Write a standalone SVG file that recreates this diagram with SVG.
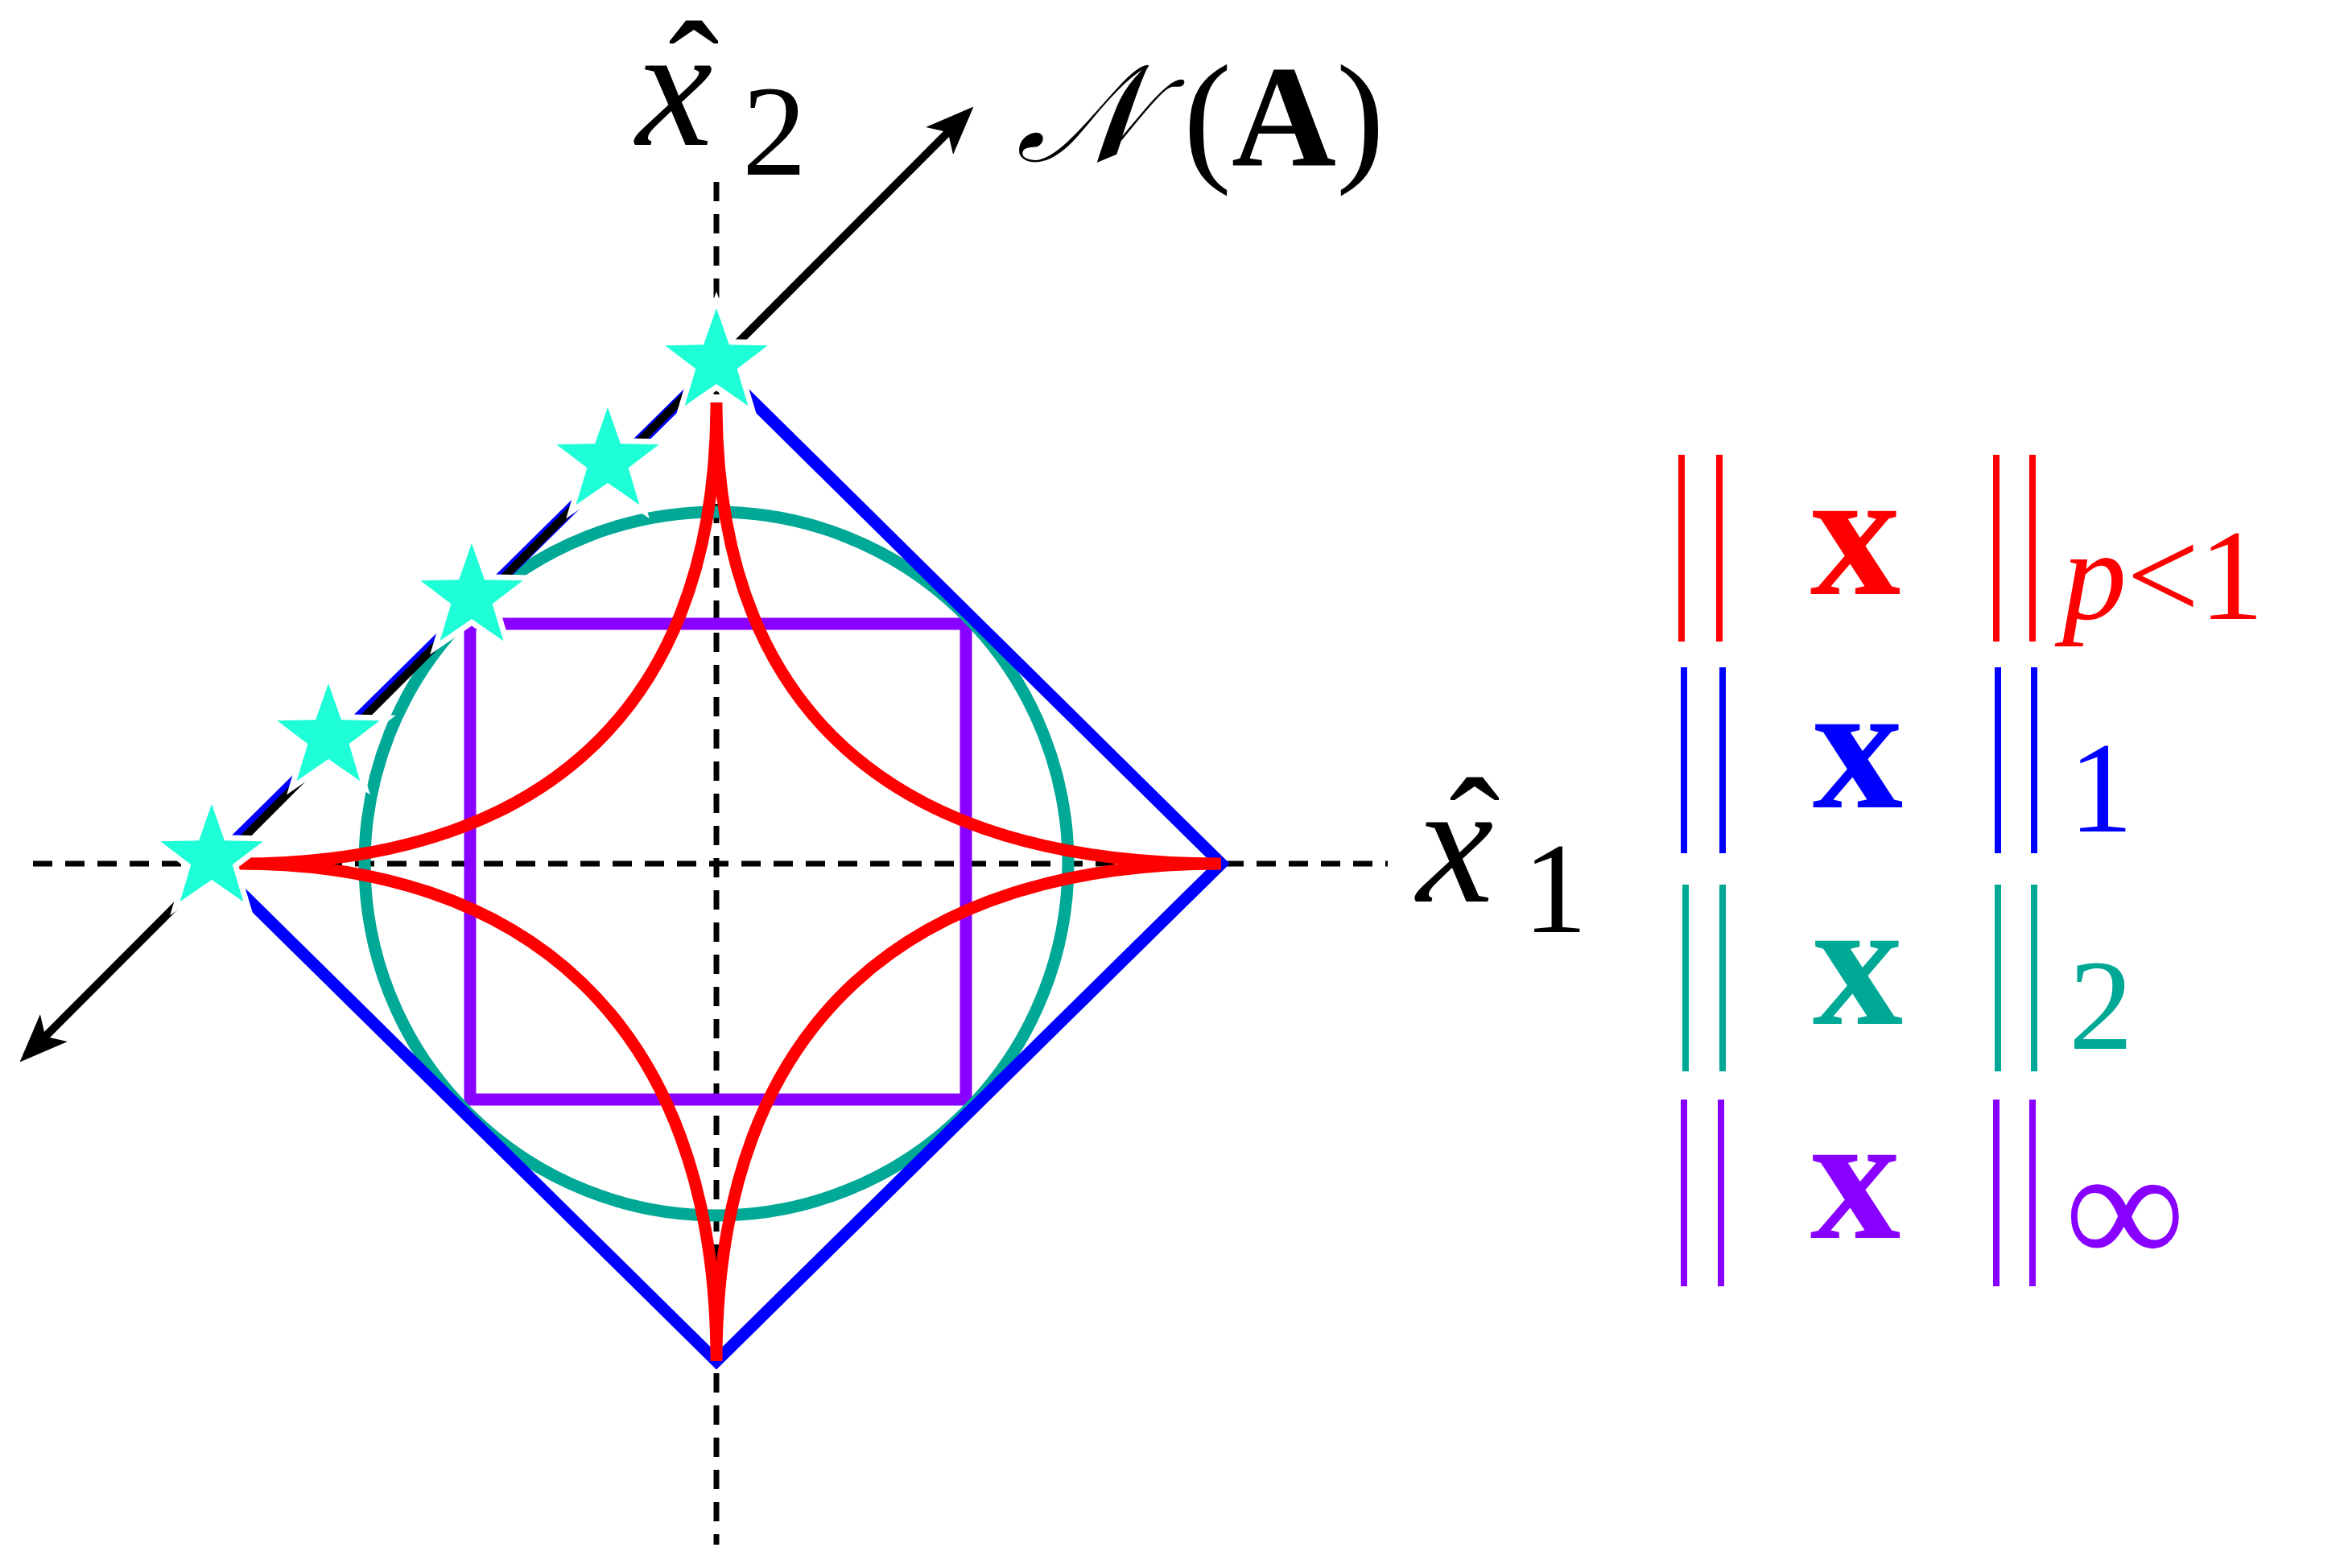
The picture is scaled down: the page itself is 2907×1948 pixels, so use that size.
<svg xmlns="http://www.w3.org/2000/svg" width="2907" height="1948" viewBox="0 0 2907 1948">
<style>
.s{fill:none;stroke-width:15}
.ax{stroke:#000;stroke-width:7;stroke-dasharray:24 16;fill:none}
.t{font-family:"Liberation Serif",serif}
.bar{stroke-width:8}
</style>
<defs>
<marker id="ah" viewBox="0 0 10 10" refX="8" refY="5" markerWidth="6" markerHeight="6" orient="auto-start-reverse" markerUnits="strokeWidth"><path d="M0,1 L10,5 L0,9 L2.5,5Z" fill="#000"/></marker>
<path id="star" d="M0,-67 L15.9,-21.8 63.7,-20.7 25.7,8.3 39.4,54.2 0,27 -39.4,54.2 -25.7,8.3 -63.7,-20.7 -15.9,-21.8Z"/>
</defs>
<rect width="2907" height="1948" fill="#fff"/>
<g id="connectors">
<line class="ax" x1="41" y1="1073" x2="1724" y2="1073"/>
<line class="ax" x1="890" y1="226" x2="890" y2="1919"/>
</g>
<g id="shapes">
<rect class="s" x="584" y="775" width="616" height="591" stroke="#8800ff"/>
<circle class="s" cx="890" cy="1073" r="437" stroke="#00a896"/>
<path class="s" d="M890,454 L1517,1073 L890,1691 L263,1073Z" stroke="#0000ff"/>
<path class="s" d="M890,500 C890,910 640,1073 297,1073 C640,1073 890,1260 890,1691 C890,1260 1140,1073 1517,1073 C1140,1073 890,910 890,500" stroke="#ff0000" stroke-width="17"/>
<line x1="33" y1="1311" x2="1201" y2="141" stroke="#000" stroke-width="10" marker-start="url(#ah)" marker-end="url(#ah)"/>
</g>
<g id="stars" fill="#1effd8" stroke="#fff" stroke-width="14" paint-order="stroke">
<use href="#star" x="890" y="450"/>
<use href="#star" x="755" y="573"/>
<use href="#star" x="586" y="742"/>
<use href="#star" x="408" y="916"/>
<use href="#star" x="263" y="1066"/>
</g>
<g id="labels" class="t">
<text x="790" y="180" font-size="215" font-style="italic">x</text>
<text x="862" y="158" font-size="190" text-anchor="middle">ˆ</text>
<text x="922" y="217" font-size="160">2</text>
<text x="1262" y="200" font-size="170" font-style="italic" font-family="'DejaVu Serif',serif">𝒩</text>
<text x="1470" y="205" font-size="180">(<tspan font-weight="bold">A</tspan>)</text>
<text x="1760" y="1120" font-size="215" font-style="italic">x</text>
<text x="1832" y="1098" font-size="190" text-anchor="middle">ˆ</text>
<text x="1892" y="1158" font-size="160">1</text>
</g>
<g id="legend" class="t">
<g stroke="#ff0000" class="bar"><line x1="2089" y1="565" x2="2089" y2="797"/><line x1="2136" y1="565" x2="2136" y2="797"/><line x1="2480" y1="565" x2="2480" y2="797"/><line x1="2525" y1="565" x2="2525" y2="797"/></g>
<text x="2305" y="738" font-size="225" font-weight="bold" fill="#ff0000" text-anchor="middle">x</text>
<text x="2562" y="769" font-size="160" fill="#ff0000"><tspan font-style="italic">p</tspan>&lt;1</text>
<g stroke="#0000ff" class="bar"><line x1="2092" y1="829" x2="2092" y2="1060"/><line x1="2140" y1="829" x2="2140" y2="1060"/><line x1="2482" y1="829" x2="2482" y2="1060"/><line x1="2527" y1="829" x2="2527" y2="1060"/></g>
<text x="2308" y="1003" font-size="225" font-weight="bold" fill="#0000ff" text-anchor="middle">x</text>
<text x="2570" y="1033" font-size="160" fill="#0000ff">1</text>
<g stroke="#00a896" class="bar"><line x1="2094" y1="1099" x2="2094" y2="1331"/><line x1="2140" y1="1099" x2="2140" y2="1331"/><line x1="2482" y1="1099" x2="2482" y2="1331"/><line x1="2527" y1="1099" x2="2527" y2="1331"/></g>
<text x="2308" y="1272" font-size="225" font-weight="bold" fill="#00a896" text-anchor="middle">x</text>
<text x="2570" y="1303" font-size="160" fill="#00a896">2</text>
<g stroke="#8800ff" class="bar"><line x1="2092" y1="1366" x2="2092" y2="1598"/><line x1="2138" y1="1366" x2="2138" y2="1598"/><line x1="2480" y1="1366" x2="2480" y2="1598"/><line x1="2525" y1="1366" x2="2525" y2="1598"/></g>
<text x="2305" y="1538" font-size="225" font-weight="bold" fill="#8800ff" text-anchor="middle">x</text>
<text x="2565" y="1572" font-size="210" fill="#8800ff">∞</text>
</g>
</svg>
